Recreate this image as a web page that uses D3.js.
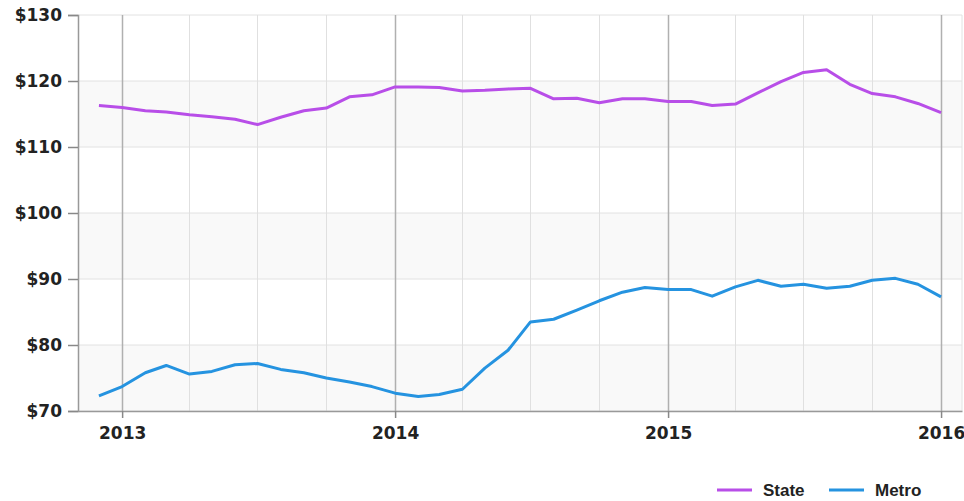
<!DOCTYPE html>
<html>
<head>
<meta charset="utf-8">
<script src="https://cdn.jsdelivr.net/npm/d3@7"></script>
<style>
  body { margin: 0; background: #fff; }
  svg { display: block; }
</style>
</head>
<body>
<div id="chart"></div>
<script>
// Monthly points, Dec 2012 to Jan 2016
const months = [
  "2012-12",
  "2013-01", "2013-02", "2013-03", "2013-04", "2013-05", "2013-06",
  "2013-07", "2013-08", "2013-09", "2013-10", "2013-11", "2013-12",
  "2014-01", "2014-02", "2014-03", "2014-04", "2014-05", "2014-06",
  "2014-07", "2014-08", "2014-09", "2014-10", "2014-11", "2014-12",
  "2015-01", "2015-02", "2015-03", "2015-04", "2015-05", "2015-06",
  "2015-07", "2015-08", "2015-09", "2015-10", "2015-11", "2015-12",
  "2016-01"
];

const stateValues = [
  116.3,
  116.0, 115.5, 115.3, 114.9, 114.6, 114.2,
  113.4, 114.5, 115.5, 115.9, 117.6, 117.9,
  119.1, 119.1, 119.0, 118.5, 118.6, 118.8,
  118.9, 117.3, 117.4, 116.7, 117.3, 117.3,
  116.9, 116.9, 116.3, 116.5, 118.2, 119.9,
  121.3, 121.7, 119.5, 118.1, 117.6, 116.6,
  115.2
];

const metroValues = [
  72.3,
  73.7, 75.8, 76.9, 75.6, 76.0, 77.0,
  77.2, 76.3, 75.8, 75.0, 74.4, 73.7,
  72.7, 72.2, 72.5, 73.3, 76.5, 79.2,
  83.5, 83.9, 85.3, 86.7, 88.0, 88.7,
  88.4, 88.4, 87.4, 88.8, 89.8, 88.9,
  89.2, 88.6, 88.9, 89.8, 90.1, 89.2,
  87.3
];

const yTicks = [70, 80, 90, 100, 110, 120, 130];
const yearTicks = ["2013", "2014", "2015", "2016"];
const seriesNames = ["State", "Metro"];
const seriesColors = ["#b84ee8", "#2593e0"];

const width = 964, height = 501;
const plot = { left: 78, right: 962, top: 15, bottom: 411 };

const parseMonth = d3.timeParse("%Y-%m");
const parseYear = d3.timeParse("%Y");
const dates = months.map(parseMonth);

const svg = d3.select("#chart")
  .append("svg")
  .attr("width", width)
  .attr("height", height);

// Scales
const x = d3.scaleTime()
  .domain([new Date(2012, 10, 3), new Date(2016, 0, 29)])
  .range([plot.left, plot.right]);

const y = d3.scaleLinear()
  .domain([70, 130])
  .range([plot.bottom, plot.top]);

// Alternating bands
const bands = yTicks.slice(0, -1).filter((d, i) => i % 2 === 0);
svg.append("g")
  .selectAll("rect")
  .data(bands)
  .join("rect")
  .attr("x", plot.left)
  .attr("width", plot.right - plot.left)
  .attr("y", d => y(d + 10))
  .attr("height", d => y(d) - y(d + 10))
  .attr("fill", "#f9f9f9");

// Horizontal gridlines
svg.append("g")
  .selectAll("line")
  .data(yTicks)
  .join("line")
  .attr("x1", plot.left)
  .attr("x2", plot.right)
  .attr("y1", d => y(d))
  .attr("y2", d => y(d))
  .attr("stroke", "#e2e2e2")
  .attr("stroke-width", 1);

// Vertical gridlines, quarters and years
const quarters = d3.timeMonth.every(3).range(new Date(2013, 0, 1), new Date(2016, 0, 2));
svg.append("g")
  .selectAll("line")
  .data(quarters)
  .join("line")
  .attr("x1", d => Math.round(x(d)) + 0.5)
  .attr("x2", d => Math.round(x(d)) + 0.5)
  .attr("y1", plot.top)
  .attr("y2", plot.bottom)
  .attr("stroke", d => d.getMonth() === 0 ? "#b0b0b0" : "#e0e0e0")
  .attr("stroke-width", d => d.getMonth() === 0 ? 1.5 : 1);

// right border
svg.append("line")
  .attr("x1", plot.right).attr("x2", plot.right)
  .attr("y1", plot.top).attr("y2", plot.bottom)
  .attr("stroke", "#e2e2e2");

// Y Axis
const yAxis = svg.append("g")
  .attr("transform", `translate(${plot.left},0)`)
  .call(d3.axisLeft(y).tickValues(yTicks).tickFormat(d => "$" + d).tickSize(10).tickPadding(6));
yAxis.select(".domain").attr("stroke", "#999").attr("stroke-width", 1.5);
yAxis.selectAll(".tick line").attr("stroke", "#888").attr("stroke-width", 1.5);
yAxis.selectAll("text")
  .attr("fill", "#222")
  .style("font-family", "'DejaVu Sans', sans-serif")
  .style("font-weight", "bold")
  .style("font-size", "17px");

// X Axis
const xAxis = svg.append("g")
  .attr("transform", `translate(0,${plot.bottom})`)
  .call(d3.axisBottom(x).tickValues(yearTicks.map(parseYear)).tickFormat(d3.timeFormat("%Y")).tickSize(7).tickPadding(9).tickSizeOuter(0));
xAxis.select(".domain").attr("stroke", "#999").attr("stroke-width", 1.5);
xAxis.selectAll(".tick line").attr("stroke", "#888").attr("stroke-width", 1.5);
xAxis.selectAll("text")
  .attr("fill", "#222")
  .style("font-family", "'DejaVu Sans', sans-serif")
  .style("font-weight", "bold")
  .style("font-size", "17px");

// Lines
const line = d3.line()
  .x((d, i) => x(dates[i]))
  .y(d => y(d));

[stateValues, metroValues].forEach((vals, i) => {
  svg.append("path")
    .datum(vals)
    .attr("fill", "none")
    .attr("stroke", seriesColors[i])
    .attr("stroke-width", 3)
    .attr("stroke-linejoin", "round")
    .attr("d", line);
});

// Legend
const legendX = [717, 829];
const legend = svg.append("g")
  .selectAll("g")
  .data(seriesNames)
  .join("g")
  .attr("transform", (d, i) => `translate(${legendX[i]},490)`);

legend.append("line")
  .attr("x1", 0).attr("x2", 35)
  .attr("y1", 0).attr("y2", 0)
  .attr("stroke", (d, i) => seriesColors[i])
  .attr("stroke-width", 3);

legend.append("text")
  .attr("x", 46)
  .attr("y", 6)
  .attr("fill", "#222")
  .style("font-family", "'Liberation Sans', Arial, sans-serif")
  .style("font-weight", "bold")
  .style("font-size", "17px")
  .text(d => d);
</script>
</body>
</html>
